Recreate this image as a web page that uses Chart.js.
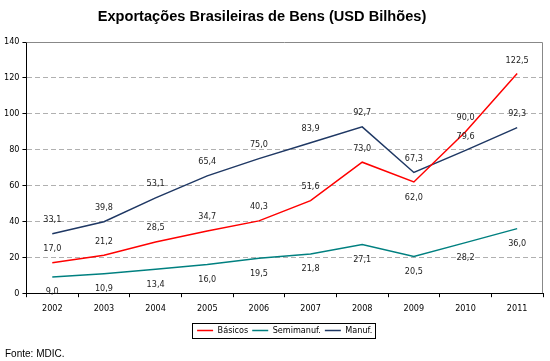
<html lang="pt">
<head>
    <meta charset="UTF-8">
    <title>Exportações Brasileiras de Bens</title>
    <script src="https://cdn.jsdelivr.net/npm/chart.js"></script>
    <style>
        body { margin: 0; background: #fff; }
        #wrap { width: 550px; height: 361px; }
    </style>
</head>
<body>
    <div id="wrap"><canvas id="grafico" width="550" height="361"></canvas></div>

    <script>
        // Dados (USD bilhões)
        const anos = ['2002', '2003', '2004', '2005', '2006', '2007', '2008', '2009', '2010', '2011'];
        const basicos = [17.0, 21.2, 28.5, 34.7, 40.3, 51.6, 73.0, 62.0, 90.0, 122.5];
        const semimanuf = [9.0, 10.9, 13.4, 16.0, 19.5, 21.8, 27.1, 20.5, 28.2, 36.0];
        const manuf = [33.1, 39.8, 53.1, 65.4, 75.0, 83.9, 92.7, 67.3, 79.6, 92.3];

        const titulo = 'Exportações Brasileiras de Bens (USD Bilhões)';
        const fonte = 'Fonte: MDIC.';
        const fonteTexto = '"DejaVu Sans Condensed", "DejaVu Sans", sans-serif';

        // deslocamento vertical dos rótulos (px) por série
        const deslocRotulo = [
            [-14, -14, -14, -14, -14, -14, -14, 16, -14, -13],
            [15, 15, 15, 15, 15, 15, 15, 15, 15, 15],
            [-14, -14, -14, -14, -14, -14, -14, -14, -14, -14]
        ];

        const rotulos = {
            id: 'rotulos',
            afterDatasetsDraw(chart) {
                const ctx = chart.ctx;
                ctx.save();
                ctx.font = '9px ' + fonteTexto;
                ctx.fillStyle = '#222';
                ctx.textAlign = 'center';
                ctx.textBaseline = 'middle';
                chart.data.datasets.forEach((ds, i) => {
                    chart.getDatasetMeta(i).data.forEach((pt, j) => {
                        const txt = ds.data[j].toFixed(1).replace('.', ',');
                        ctx.fillText(txt, pt.x, pt.y + deslocRotulo[i][j]);
                    });
                });
                ctx.restore();
            }
        };

        const extras = {
            id: 'extras',
            afterDraw(chart) {
                const ctx = chart.ctx;
                const a = chart.chartArea;
                ctx.save();
                // borda superior e direita da área do gráfico
                ctx.strokeStyle = '#888';
                ctx.lineWidth = 1;
                ctx.beginPath();
                ctx.moveTo(a.left, a.top + 0.5);
                ctx.lineTo(a.right - 0.5, a.top + 0.5);
                ctx.lineTo(a.right - 0.5, a.bottom);
                ctx.stroke();

                // caixa da legenda
                const caixas = chart.legend.legendHitBoxes;
                if (caixas && caixas.length) {
                    let l = Infinity, r = -Infinity, t = Infinity, b = -Infinity;
                    caixas.forEach(c => {
                        l = Math.min(l, c.left); r = Math.max(r, c.left + c.width);
                        t = Math.min(t, c.top); b = Math.max(b, c.top + c.height);
                    });
                    ctx.strokeStyle = '#000';
                    ctx.strokeRect(Math.round(l - 5) + 0.5, Math.round(t - 3) + 0.5,
                        Math.round(r - l + 8), Math.round(b - t + 6));
                }

                // título e fonte
                ctx.fillStyle = '#000';
                ctx.font = 'bold 14.6px "Liberation Sans", Arial, sans-serif';
                ctx.textAlign = 'center';
                ctx.textBaseline = 'alphabetic';
                ctx.fillText(titulo, 262, 21);
                ctx.font = '10px "Liberation Sans", Arial, sans-serif';
                ctx.textAlign = 'left';
                ctx.fillText(fonte, 5, 357);
                ctx.restore();
            }
        };

        new Chart(document.getElementById('grafico'), {
            type: 'line',
            data: {
                labels: anos,
                datasets: [{
                    label: 'Básicos',
                    data: basicos,
                    borderColor: '#ff0000',
                    borderWidth: 1.5
                }, {
                    label: 'Semimanuf.',
                    data: semimanuf,
                    borderColor: '#008080',
                    borderWidth: 1.5
                }, {
                    label: 'Manuf.',
                    data: manuf,
                    borderColor: '#1f3864',
                    borderWidth: 1.5
                }]
            },
            options: {
                responsive: false,
                animation: false,
                layout: { padding: { top: 42, left: 1, right: 7, bottom: 16 } },
                elements: { point: { radius: 0 }, line: { tension: 0 } },
                plugins: {
                    title: { display: false },
                    tooltip: { enabled: false },
                    legend: {
                        position: 'bottom',
                        fullSize: false,
                        labels: {
                            usePointStyle: true,
                            pointStyle: 'line',
                            pointStyleWidth: 16,
                            boxHeight: 9,
                            padding: 4,
                            color: '#000',
                            font: { size: 9, family: fonteTexto }
                        }
                    }
                },
                scales: {
                    x: {
                        offset: true,
                        afterFit: s => { s.height += 2; },
                        grid: {
                            offset: true,
                            drawOnChartArea: false,
                            tickLength: 4,
                            tickColor: '#000'
                        },
                        border: { color: '#000' },
                        ticks: { color: '#000', padding: 6, font: { size: 9, family: fonteTexto } }
                    },
                    y: {
                        min: 0,
                        max: 140,
                        ticks: { stepSize: 20, color: '#000', padding: 3, font: { size: 9, family: fonteTexto } },
                        grid: {
                            color: c => (c.tick && c.tick.value > 0 && c.tick.value < 140) ? '#b0b0b0' : 'rgba(0,0,0,0)',
                            tickColor: '#000',
                            tickLength: 4,
                            tickBorderDash: []
                        },
                        border: { color: '#000', dash: [5, 3] }
                    }
                }
            },
            plugins: [rotulos, extras]
        });
    </script>
</body>
</html>
